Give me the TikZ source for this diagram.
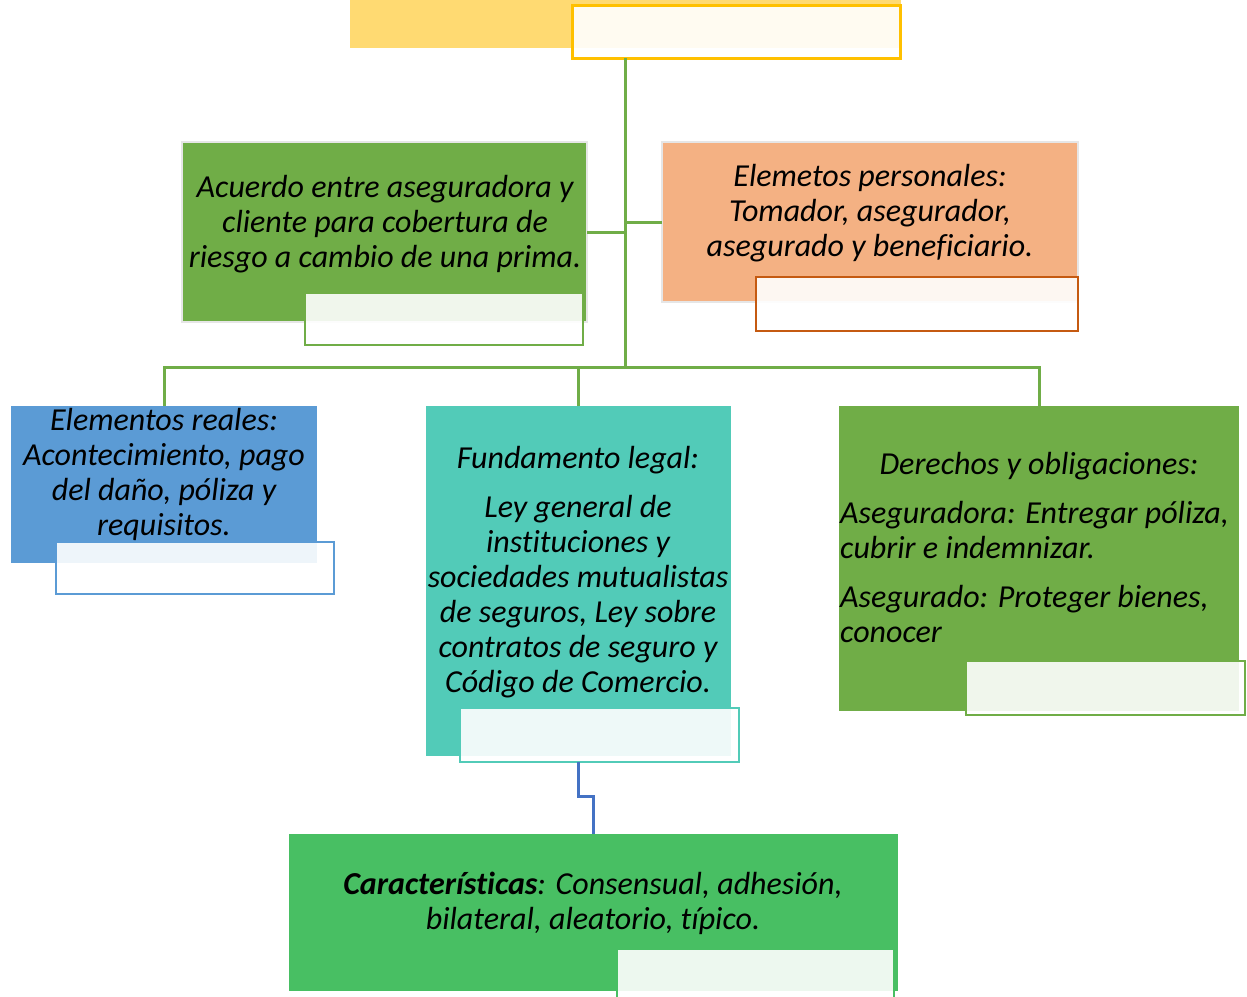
\documentclass[tikz,border=0pt]{standalone}
\usepackage{fontspec}
\setmainfont{Carlito}[Ligatures=NoCommon]
\definecolor{cYellow}{HTML}{FFDA72}
\definecolor{cGold}{HTML}{FFC000}
\definecolor{cGreen}{HTML}{70AD47}
\definecolor{cEdge}{HTML}{E6E6E6}
\definecolor{cOrange}{HTML}{F4B183}
\definecolor{cOrangeD}{HTML}{C55A11}
\definecolor{cBlue}{HTML}{5B9BD5}
\definecolor{cTeal}{HTML}{52CBB8}
\definecolor{cBot}{HTML}{48BF63}
\definecolor{cLink}{HTML}{4472C4}
\begin{document}
\begin{tikzpicture}[x=1pt,y=-1pt,
  box/.style={rectangle, inner sep=0pt, outer sep=0pt, anchor=north west},
  lbl/.style={rectangle, inner sep=0pt, outer sep=0pt, anchor=north west,
              fill=white, fill opacity=0.9, line width=2.5pt},
  conn/.style={draw=cGreen, line width=3pt},
  link/.style={draw=cLink, line width=3pt},
  txt/.style={font=\fontsize{32}{35}\selectfont\itshape, inner sep=0pt,
              align=center, text=black}]
\useasboundingbox (0,0) rectangle (1247,996);
% boxes
\node[box, fill=cYellow, minimum width=551pt, minimum height=48pt] (ttl) at (350,0) {};
\node[lbl, draw=cGold, line width=3pt, minimum width=328pt, minimum height=53pt] (ttlL) at (572,5) {};
\node[box, fill=cGreen, draw=cEdge, line width=1.5pt, minimum width=405pt, minimum height=180pt] (gA) at (182,142) {};
\node[lbl, draw=cGreen, minimum width=278pt, minimum height=52pt] (gAL) at (305,293) {};
\node[box, fill=cOrange, draw=cEdge, line width=1.5pt, minimum width=416pt, minimum height=160pt] (oA) at (662,142) {};
\node[lbl, draw=cOrangeD, minimum width=322pt, minimum height=54pt] (oAL) at (756,277) {};
\node[box, fill=cBlue, minimum width=306pt, minimum height=157pt] (bl) at (11,406) {};
\node[lbl, draw=cBlue, minimum width=278pt, minimum height=52pt] (blL) at (56,542) {};
\node[box, fill=cTeal, minimum width=305pt, minimum height=350pt] (te) at (426,406) {};
\node[lbl, draw=cTeal, minimum width=279pt, minimum height=54pt] (teL) at (460,708) {};
\node[box, fill=cGreen, minimum width=400pt, minimum height=305pt] (rg) at (839,406) {};
\node[lbl, draw=cGreen, minimum width=279pt, minimum height=54pt] (rgL) at (966,661) {};
\node[box, fill=cBot, minimum width=609pt, minimum height=157pt] (bt) at (289,834) {};
\node[lbl, draw=cBot, minimum width=277pt, minimum height=60pt] (btL) at (617,949) {};
% connectors
\coordinate (hub) at (625,367);
\draw[conn] (ttlL.south -| hub) -- (hub);
\draw[conn] (gA.east) -- (gA.east -| hub);
\draw[conn] (oA.west) -- (oA.west -| hub);
\draw[conn] (bl.north) -- (bl.north |- hub) -- (rg.north |- hub) -- (rg.north);
\draw[conn] (te.north) -- (te.north |- hub);
\coordinate (bend) at (578,796);
\draw[link] (te.south |- teL.south) -- (te.south |- bend) -| (bt.north);
% texts
\node[txt] (tA) at (385,224) {Acuerdo entre aseguradora y\\cliente para cobertura de\\riesgo a cambio de una prima.};
\node[txt] (tO) at (870,213) {Elemetos personales:\\Tomador, asegurador,\\asegurado y beneficiario.};
\node[txt] (tB) at (164,474) {Elementos reales:\\Acontecimiento, pago\\del daño, póliza y\\requisitos.};
\node[txt] (tT) at (578,572) {Fundamento legal:\\[14pt]Ley general de\\instituciones y\\sociedades mutualistas\\de seguros, Ley sobre\\contratos de seguro y\\Código de Comercio.};
\node[txt] (tRh) at (1039,466) {Derechos y obligaciones:};
\node[txt, align=left, anchor=north west] (tR) at (840,501) {Aseguradora: Entregar póliza,\\cubrir e indemnizar.\\[14pt]Asegurado: Proteger bienes,\\conocer};
\node[txt] (tBt) at (593,903) {\textbf{Características}: Consensual, adhesión,\\bilateral, aleatorio, típico.};
\end{tikzpicture}
\end{document}
